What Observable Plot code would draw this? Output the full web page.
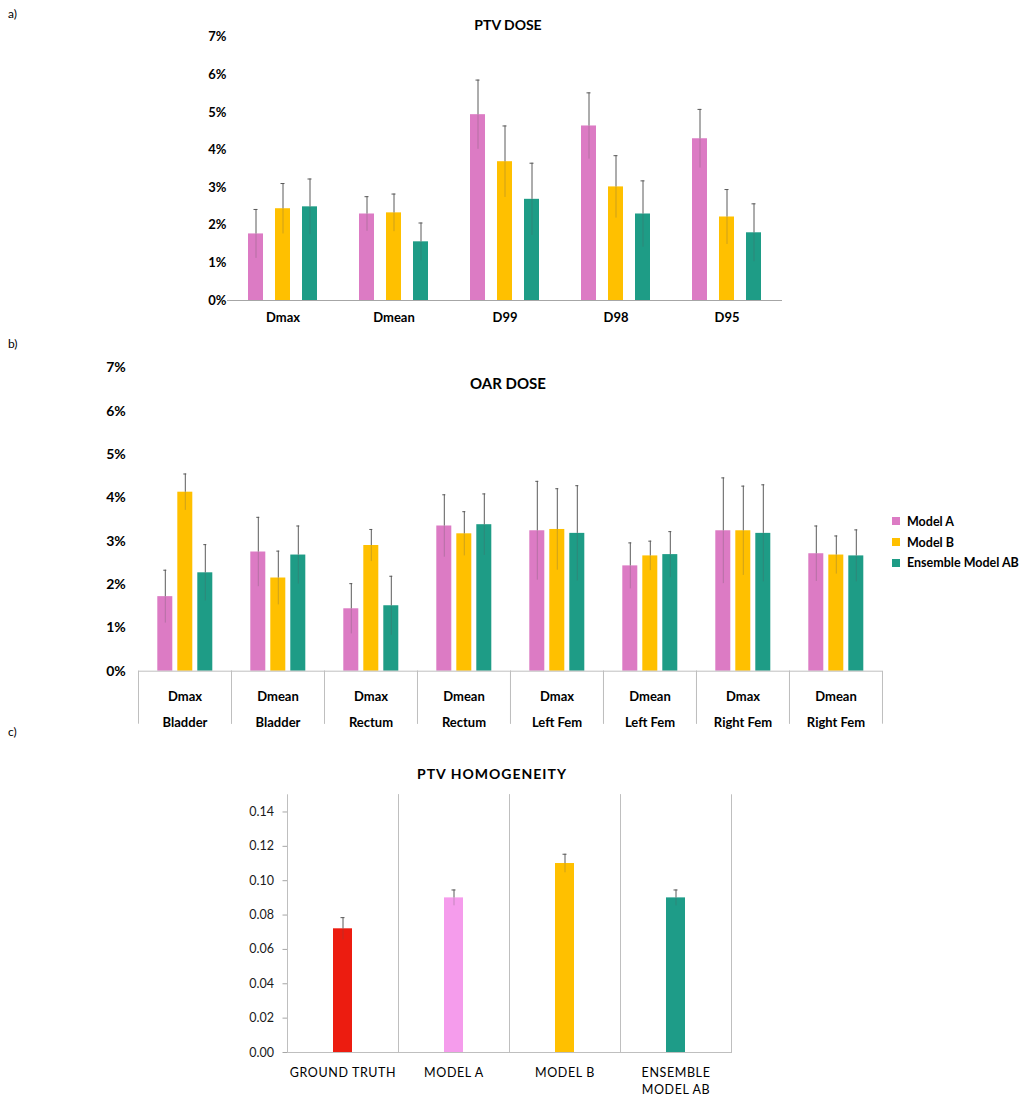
<!DOCTYPE html>
<html>
<head>
<meta charset="utf-8">
<script src="https://cdn.jsdelivr.net/npm/d3@7"></script>
<script src="https://cdn.jsdelivr.net/npm/@observablehq/plot@0.6"></script>
<style>
  body { margin: 0; background: #fff; }
  #root { position: relative; width: 1029px; height: 1099px; font-family: Lato, "Open Sans", sans-serif; color: #000; overflow: hidden; }
  .panel { position: absolute; left: 0; }
  .plabel { position: absolute; left: 8px; font-size: 12px; }
  .title { position: absolute; transform: translate(-50%, -50%); font-weight: bold; white-space: nowrap; }
  #pc g[aria-label="fx-axis tick label"] text { letter-spacing: 0.6px; }
  .legend { position: absolute; left: 892px; top: 511px; font-weight: bold; font-size: 12.5px; }
  .legend div { height: 20.8px; display: flex; align-items: center; }
  .legend span.sw { display: inline-block; width: 8px; height: 8px; margin-right: 7px; }
</style>
</head>
<body>
<div id="root">
  <div class="plabel" style="top:6px">a)</div>
  <div class="plabel" style="top:336px">b)</div>
  <div class="plabel" style="top:724px">c)</div>
  <div class="title" style="left:508px;top:24px;font-size:14px">PTV DOSE</div>
  <div class="title" style="left:508px;top:383px;font-size:15px">OAR DOSE</div>
  <div class="title" style="left:492px;top:773px;font-size:14px;letter-spacing:1px">PTV HOMOGENEITY</div>
  <div id="pa" class="panel" style="top:0px"></div>
  <div id="pb" class="panel" style="top:340px"></div>
  <div id="pc" class="panel" style="top:740px"></div>
  <div id="legend" class="legend"></div>
</div>
<script>
// ---------- shared ----------
const models = ["Model A", "Model B", "Ensemble Model AB"];
const modelColors = ["#dc7bc4", "#ffc000", "#1e9c86"];

// ---------- panel a: PTV dose (%) ----------
const ptvMetrics = ["Dmax", "Dmean", "D99", "D98", "D95"];
const ptvModelA = [1.77, 2.30, 4.94, 4.64, 4.30];
const ptvModelB = [2.44, 2.33, 3.69, 3.02, 2.22];
const ptvEnsemble = [2.49, 1.56, 2.69, 2.30, 1.80];
const ptvErrA = [0.65, 0.46, 0.92, 0.88, 0.78];
const ptvErrB = [0.67, 0.50, 0.95, 0.83, 0.73];
const ptvErrE = [0.74, 0.50, 0.96, 0.88, 0.77];
const pctTicks = [0, 1, 2, 3, 4, 5, 6, 7];

// ---------- panel b: OAR dose (%) ----------
const oarMetrics = ["Dmax", "Dmean", "Dmax", "Dmean", "Dmax", "Dmean", "Dmax", "Dmean"];
const oarOrgans = ["Bladder", "Bladder", "Rectum", "Rectum", "Left Fem", "Left Fem", "Right Fem", "Right Fem"];
const oarModelA = [1.72, 2.75, 1.44, 3.35, 3.24, 2.43, 3.24, 2.71];
const oarModelB = [4.13, 2.15, 2.90, 3.17, 3.27, 2.66, 3.24, 2.68];
const oarEnsemble = [2.27, 2.68, 1.51, 3.38, 3.18, 2.69, 3.18, 2.66];
const oarErrA = [0.61, 0.80, 0.58, 0.72, 1.14, 0.53, 1.22, 0.64];
const oarErrB = [0.42, 0.62, 0.37, 0.51, 0.94, 0.34, 1.03, 0.44];
const oarErrE = [0.65, 0.67, 0.68, 0.71, 1.10, 0.53, 1.12, 0.60];

// ---------- panel c: PTV homogeneity ----------
const homLabels = ["GROUND TRUTH", "MODEL A", "MODEL B", "ENSEMBLE\nMODEL AB"];
const homValues = [0.072, 0.090, 0.110, 0.090];
const homErr = [0.0065, 0.0046, 0.0054, 0.0046];
const homColors = ["#ec1c10", "#f59cec", "#ffc000", "#1e9c88"];
const homTicks = [0, 0.02, 0.04, 0.06, 0.08, 0.10, 0.12, 0.14];

// ---------- tables ----------
const ptvVals = [ptvModelA, ptvModelB, ptvEnsemble];
const ptvErrs = [ptvErrA, ptvErrB, ptvErrE];
const ptvRows = ptvMetrics.flatMap((m, i) => models.map((s, j) => ({group: m, model: s, value: ptvVals[j][i], err: ptvErrs[j][i]})));

const oarKeys = oarMetrics.map((m, i) => m + "\n" + oarOrgans[i]);
const oarVals = [oarModelA, oarModelB, oarEnsemble];
const oarErrs = [oarErrA, oarErrB, oarErrE];
const oarRows = oarKeys.flatMap((k, i) => models.map((s, j) => ({group: k, model: s, value: oarVals[j][i], err: oarErrs[j][i]})));

const homRows = homLabels.map((c, i) => ({group: c, slot: "bar", value: homValues[i], err: homErr[i]}));

const errColor = "#5a5a5a";

function errorMarks(rows, capInset) {
  return [
    Plot.ruleX(rows, {fx: "group", x: "model", y1: d => d.value - d.err, y2: "value", stroke: errColor, strokeOpacity: 0.3}),
    Plot.ruleX(rows, {fx: "group", x: "model", y1: "value", y2: d => d.value + d.err, stroke: errColor, strokeWidth: 1}),
    Plot.tickY(rows, {fx: "group", x: "model", y: d => d.value + d.err, stroke: errColor, insetLeft: capInset, insetRight: capInset})
  ];
}

// ---------- panel a ----------
const pa = Plot.plot({
  width: 1029, height: 330,
  marginLeft: 225, marginRight: 246, marginTop: 36.7, marginBottom: 30,
  style: {fontFamily: "Lato, sans-serif", fontSize: "13px", fontWeight: "bold", overflow: "visible", background: "transparent"},
  fx: {domain: ptvMetrics, paddingInner: 0, paddingOuter: 0, label: null},
  x: {domain: models, paddingInner: 0.448, paddingOuter: 0.737, axis: null},
  y: {domain: [0, 7], label: null},
  color: {domain: models, range: modelColors},
  marks: [
    Plot.barY(ptvRows, {fx: "group", x: "model", y: "value", fill: "model"}),
    Plot.ruleY([0], {stroke: "#a6a6a6"}),
    ...errorMarks(ptvRows, 5.5),
    Plot.axisY({ticks: pctTicks, tickFormat: d => d + "%", tickSize: 0, tickPadding: 1, label: null}),
    Plot.axisFx({anchor: "bottom", tickSize: 0, tickPadding: 12, label: null})
  ]
});
document.getElementById("pa").append(pa);

// ---------- panel b ----------
const pb = Plot.plot({
  width: 1029, height: 390,
  marginLeft: 137.7, marginRight: 146, marginTop: 27.3, marginBottom: 59.3,
  style: {fontFamily: "Lato, sans-serif", fontSize: "13px", fontWeight: "bold", overflow: "visible", background: "transparent"},
  fx: {domain: oarKeys, paddingInner: 0, paddingOuter: 0, label: null},
  x: {domain: models, paddingInner: 0.23, paddingOuter: 0.855, axis: null},
  y: {domain: [0, 7], label: null},
  color: {domain: models, range: modelColors},
  marks: [
    Plot.barY(oarRows, {fx: "group", x: "model", y: "value", fill: "model"}),
    Plot.frame({anchor: "left", stroke: "#bfbfbf", insetTop: 303.4, insetBottom: -52}),
    Plot.frame({anchor: "right", stroke: "#bfbfbf", insetTop: 303.4, insetBottom: -52}),
    Plot.ruleY([0], {stroke: "#bfbfbf"}),
    ...errorMarks(oarRows, 6),
    Plot.axisY({ticks: pctTicks, tickFormat: d => d + "%", tickSize: 0, tickPadding: 12.7, label: null, fontSize: 14}),
    Plot.axisFx({anchor: "bottom", tickSize: 0, tickPadding: 11, lineHeight: 2, label: null})
  ]
});
document.getElementById("pb").append(pb);

// ---------- panel c ----------
const pc = Plot.plot({
  width: 1029, height: 359,
  marginLeft: 286, marginRight: 296.7, marginTop: 54.3, marginBottom: 47,
  style: {fontFamily: "Lato, sans-serif", fontSize: "12px", overflow: "visible", background: "transparent"},
  fx: {domain: homLabels, paddingInner: 0, paddingOuter: 0, label: null},
  x: {domain: ["bar"], paddingInner: 0, paddingOuter: 2.29, axis: null},
  y: {domain: [0, 0.15], label: null},
  color: {domain: homLabels, range: homColors},
  marks: [
    Plot.frame({anchor: "left", stroke: "#bfbfbf"}),
    Plot.frame({anchor: "right", stroke: "#bfbfbf"}),
    Plot.barY(homRows, {fx: "group", x: "slot", y: "value", fill: "group"}),
    Plot.ruleY([0], {stroke: "#bfbfbf"}),
    Plot.ruleX(homRows, {fx: "group", x: "slot", y1: d => d.value - d.err, y2: "value", stroke: errColor, strokeOpacity: 0.3}),
    Plot.ruleX(homRows, {fx: "group", x: "slot", y1: "value", y2: d => d.value + d.err, stroke: errColor}),
    Plot.tickY(homRows, {fx: "group", x: "slot", y: d => d.value + d.err, stroke: errColor, insetLeft: 7.5, insetRight: 7.5}),
    Plot.axisY({ticks: homTicks, tickFormat: d3.format(".2f"), tickSize: 4.5, tickPadding: 9, stroke: "#a6a6a6", fill: "#1a1a1a", label: null, fontSize: 12.5}),
    Plot.axisFx({anchor: "bottom", tickSize: 0, tickPadding: 12, lineHeight: 1.4, label: null, fontSize: 12.5})
  ]
});
document.getElementById("pc").append(pc);

// ---------- legend ----------
const leg = document.getElementById("legend");
models.forEach((m, i) => {
  const row = document.createElement("div");
  const sw = document.createElement("span");
  sw.className = "sw";
  sw.style.background = modelColors[i];
  row.append(sw, document.createTextNode(m));
  leg.append(row);
});
</script>
</body>
</html>
